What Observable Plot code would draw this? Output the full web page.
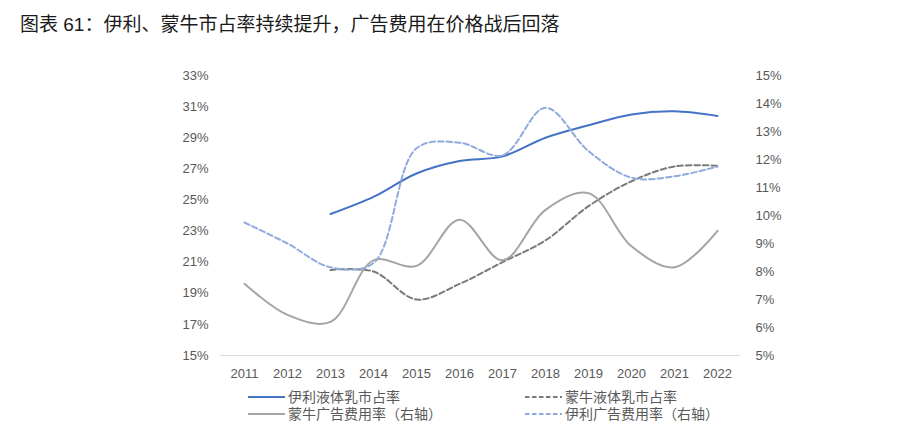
<!DOCTYPE html>
<html>
<head>
<meta charset="utf-8">
<script src="https://cdn.jsdelivr.net/npm/d3@7"></script>
<script src="https://cdn.jsdelivr.net/npm/@observablehq/plot@0.6"></script>
<style>
  html, body { margin: 0; padding: 0; background: #fff; }
  #wrap { position: relative; width: 898px; height: 445px; overflow: hidden;
          font-family: "Liberation Sans", "Noto Sans CJK SC", sans-serif; }
  #title { position: absolute; left: 20px; top: 13px; font-size: 19px; color: #1a1a1a;
           white-space: nowrap; line-height: 24px; }
  #chart { position: absolute; left: 0; top: 45px; }
  .leg { position: absolute; font-size: 14px; color: #595959; line-height: 16px; white-space: nowrap; }
  .leg svg { vertical-align: middle; margin-right: 3px; position: relative; top: -1px; }
</style>
</head>
<body>
<div id="wrap">
  <div id="title">图表 61：伊利、蒙牛市占率持续提升，广告费用在价格战后回落</div>
  <div id="chart"></div>
  <div id="legend"></div>
</div>
<script>
const years = [2011, 2012, 2013, 2014, 2015, 2016, 2017, 2018, 2019, 2020, 2021, 2022];
const yiliShare    = [null, null, 24.1, 25.2, 26.7, 27.5, 27.8, 29.0, 29.8, 30.5, 30.7, 30.4];
const mengniuShare = [null, null, 20.5, 20.4, 18.6, 19.6, 21.0, 22.4, 24.6, 26.2, 27.15, 27.2];
const mengniuAd    = [7.56, 6.45, 6.2, 8.4, 8.2, 9.85, 8.4, 10.2, 10.8, 8.9, 8.15, 9.45];
const yiliAd       = [9.75, 9.0, 8.15, 8.3, 12.4, 12.6, 12.15, 13.85, 12.3, 11.35, 11.4, 11.75];
const leftTicks  = [15, 17, 19, 21, 23, 25, 27, 29, 31, 33];
const rightTicks = [5, 6, 7, 8, 9, 10, 11, 12, 13, 14, 15];

const seriesNames = ["伊利液体乳市占率", "蒙牛液体乳市占率", "蒙牛广告费用率（右轴）", "伊利广告费用率（右轴）"];

// map right axis (5%..15%) onto left scale (15%..33%)
const toLeft = r => 15 + (r - 5) * 1.8;
const toRight = l => (l - 15) / 1.8 + 5;

const rows = (vals, conv) => years.map((yr, i) => ({year: yr, v: vals[i] == null ? null : conv(vals[i])}))
  .filter(d => d.v != null);

const styles = [
  {stroke: "#4472C4", dash: null},
  {stroke: "#7a7a7a", dash: "5.5,3"},
  {stroke: "#a5a5a5", dash: null},
  {stroke: "#8faadc", dash: "5.5,3"}
];
const dataSets = [
  rows(yiliShare, v => v),
  rows(mengniuShare, v => v),
  rows(mengniuAd, toLeft),
  rows(yiliAd, toLeft)
];

const drawOrder = [1, 0, 2, 3];

const plot = Plot.plot({
  width: 898,
  height: 340,
  marginLeft: 220,
  marginRight: 158,
  marginTop: 30,
  marginBottom: 30,
  style: {fontFamily: '"Liberation Sans", "Noto Sans CJK SC", sans-serif', fontSize: "13px", color: "#595959", background: "#fff"},
  x: {type: "point", domain: years, padding: 0.5},
  y: {domain: [15, 33]},
  marks: [
    Plot.ruleY([15], {stroke: "#d9d9d9", strokeWidth: 1}),
    ...drawOrder.map(k => Plot.line(dataSets[k], {
      x: "year", y: "v", curve: "catmull-rom",
      stroke: styles[k].stroke, strokeWidth: 2,
      strokeDasharray: styles[k].dash || undefined
    })),
    Plot.axisX({tickSize: 0, tickPadding: 13, label: null, tickFormat: d => String(d), fontSize: 13, fill: "#595959"}),
    Plot.axisY(leftTicks, {anchor: "left", tickSize: 0, tickPadding: 12, label: null,
      tickFormat: d => d + "%", fontSize: 13, fill: "#595959"}),
    Plot.axisY(rightTicks.map(toLeft), {anchor: "right", tickSize: 0, tickPadding: 15, label: null,
      tickFormat: d => Math.round(toRight(d)) + "%", fontSize: 13, fill: "#595959"})
  ]
});
document.getElementById("chart").appendChild(plot);

// legend
const legPos = [
  {x: 248, y: 389}, {x: 525, y: 389}, {x: 248, y: 406}, {x: 525, y: 406}
];
const legend = document.getElementById("legend");
seriesNames.forEach((name, k) => {
  const div = document.createElement("div");
  div.className = "leg";
  div.style.left = legPos[k].x + "px";
  div.style.top = legPos[k].y + "px";
  const dash = styles[k].dash ? `stroke-dasharray="4.5,2.5"` : "";
  div.innerHTML = `<svg width="37" height="4"><line x1="0" y1="2" x2="37" y2="2" stroke="${styles[k].stroke}" stroke-width="2" ${dash}/></svg>${name}`;
  legend.appendChild(div);
});
</script>
</body>
</html>
